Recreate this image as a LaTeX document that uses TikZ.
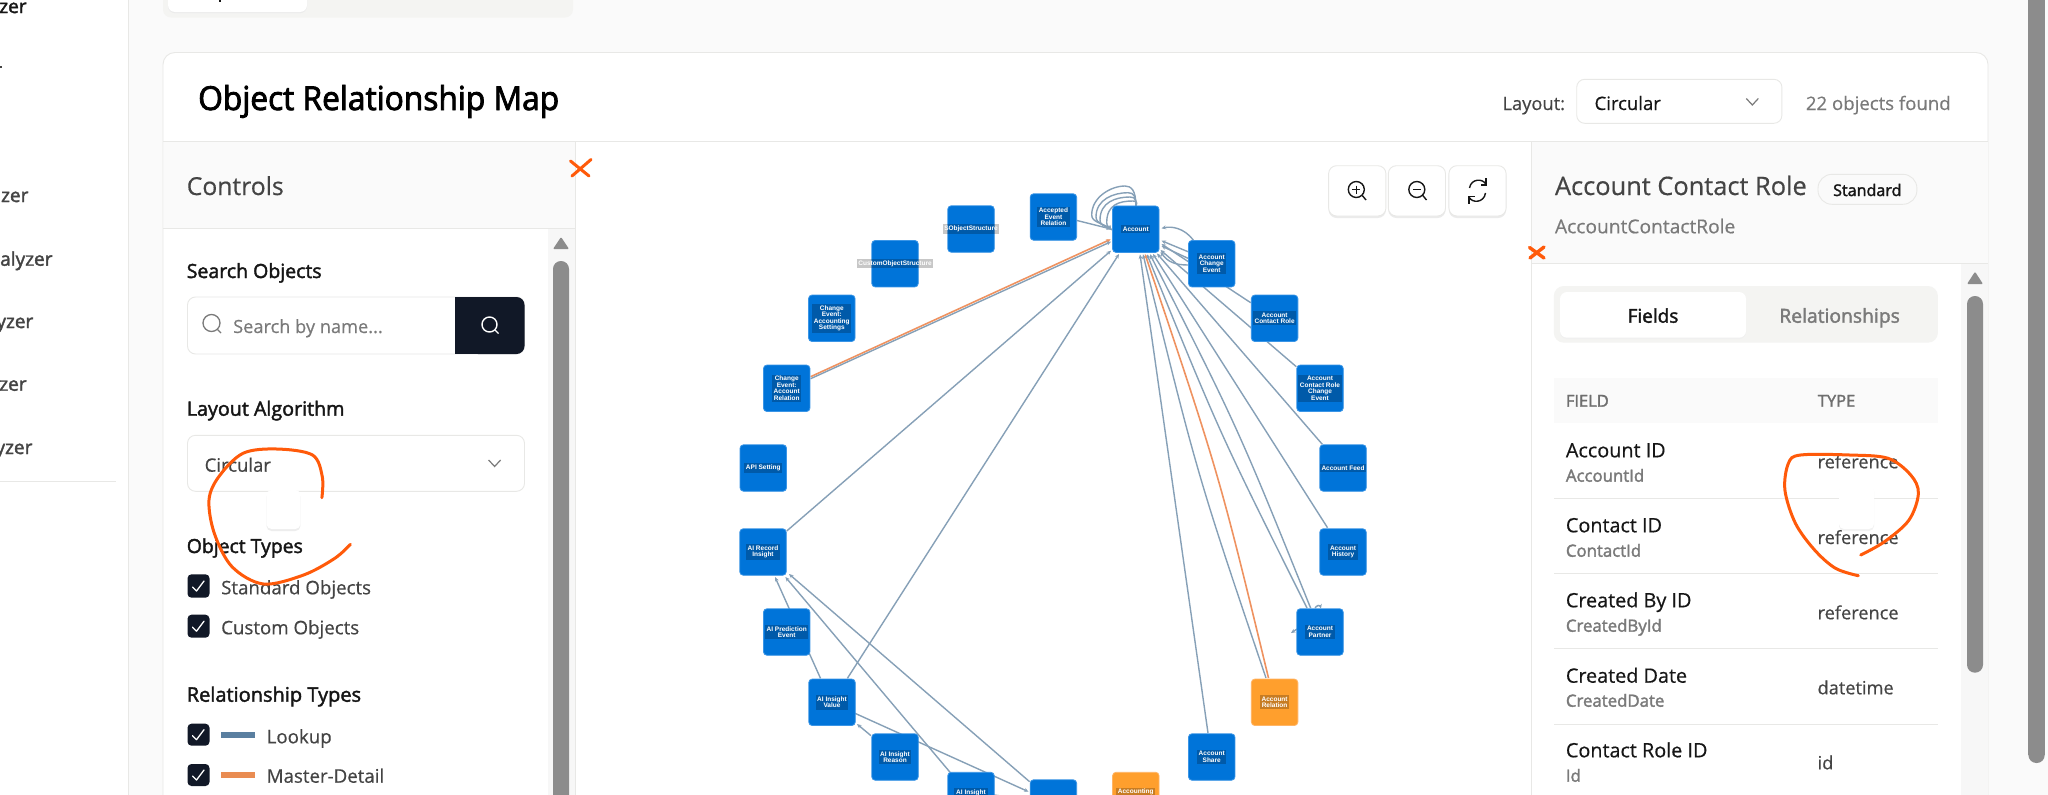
\documentclass[tikz,border=0pt]{standalone}
\usepackage{fontspec}
\setmainfont{Open Sans}[FakeBold=0.5]
\newfontfamily\semi{Open Sans}[FakeBold=2.0]
\newfontfamily\titlef{Open Sans}[FakeStretch=0.96,FakeBold=2.5]
\newfontfamily\labf{Liberation Sans}
\usetikzlibrary{arrows.meta}
\pgfdeclarelayer{uibg}\pgfdeclarelayer{edgelayer}
\pgfsetlayers{uibg,edgelayer,main}
\definecolor{pagebg}{HTML}{FAFAFA}
\definecolor{bord}{HTML}{E8E8E6}
\definecolor{navy}{HTML}{111827}
\definecolor{ink}{HTML}{161616}
\definecolor{soft}{HTML}{444444}
\definecolor{mute}{HTML}{7A7A7A}
\definecolor{thumb}{HTML}{8C8C8C}
\definecolor{tabbg}{HTML}{F4F4F2}
\definecolor{nodeblue}{HTML}{0074D9}
\definecolor{nodeedge}{HTML}{3A95E6}
\definecolor{nodeorange}{HTML}{FF9F2D}
\definecolor{orangeedge}{HTML}{FFB566}
\definecolor{lk}{HTML}{86A0B7}
\definecolor{md}{HTML}{EF9260}
\definecolor{scrib}{HTML}{FF5A0A}
\definecolor{legblue}{HTML}{5A7FA0}
\definecolor{legor}{HTML}{E98C52}
\newcommand{\fs}[1]{\fontsize{#1}{#1}\selectfont}
\tikzset{
  objbox/.style={draw=nodeedge,fill=nodeblue,line width=.8pt,rounded corners=3.5pt,minimum width=46.5pt,minimum height=46.5pt,inner sep=0pt},
  objor/.style={objbox,draw=orangeedge,fill=nodeorange},
  objlab/.style={fill=black,fill opacity=.22,text opacity=1,text=white,inner sep=1.6pt,align=center,font={\labf\bfseries\fontsize{6.5}{6.45}\selectfont}},
  lkedge/.style={draw=lk,line width=1.4pt,-{Stealth[length=4.5pt,width=4pt]}},
  mdedge/.style={draw=md,line width=1.6pt,-{Stealth[length=4.5pt,width=4pt]}},
  txt/.style={anchor=base west,inner sep=0pt,text=ink},
  scribble/.style={draw=scrib,line width=3pt,line cap=round,line join=round},
  panel/.style={draw=bord,fill=white,line width=.9pt},
  chev/.style={draw=mute,line width=1.2pt},
  chk/.style={draw=white,line width=1.3pt,line cap=round,line join=round},
  box8/.style={draw=bord,fill=white,line width=.9pt,rounded corners=8pt},
}
\newcommand{\obj}[5][objbox]{\node[#1,label={[objlab]center:{#5}}] (#2) at (#3,#4) {};}
\newcommand{\ckbox}[3]{\fill[navy,rounded corners=4pt] (187.5,#2) rectangle (209.5,#3);
  \draw[chk] (192.5,{(#2+#3)/2+1}) -- (196.5,{(#2+#3)/2+5}) -- (204,{(#2+#3)/2-5});}
\newcommand{\loopk}[4]{\draw[lkedge] ([shift={(0,-23.5)}]acc.center) .. controls (1136,#2+4) and (#1+6,#2) .. (#1,#2) .. controls (#1-14,#2) and (#3,#4-18) .. (#3,#4) .. controls (#3,#4+7) and (#3+10,#4+8) .. ([shift={(-24.8,0.6)}]acc.center);}
\begin{document}
\begin{tikzpicture}[x=1pt,y=-1pt]
\useasboundingbox (0,0) rectangle (2048,795);
\begin{pgfonlayer}{uibg}
  % page
  \fill[pagebg] (0,0) rectangle (2048,796);
  \fill[white] (0,0) rectangle (128.6,796);
  \draw[bord,line width=.9pt] (128.6,0) -- (128.6,796);
  \draw[bord,line width=.9pt] (0,481) -- (116,481);
  % top tab strip
  \fill[tabbg,rounded corners=8pt] (163,-20) rectangle (573,17.5);
  \fill[black!8] (168,-20) [rounded corners=7pt] rectangle (307,13.2);
  \fill[white,rounded corners=7pt] (168,-20) rectangle (307,12);
  \fill[ink] (218.8,0) rectangle (221,2);
  % card
  \draw[panel,rounded corners=12pt] (163,52.5) -- (1988,52.5) -- (1988,830) -- (163,830) -- cycle;
  \draw[bord,line width=.9pt] (163,141.2) -- (1988,141.2);
  % left panel
  \fill[pagebg] (163.5,141.6) rectangle (575,228.3);
  \fill[white!97!black] (548,228.8) rectangle (575,796);
  \draw[bord,line width=.9pt] (163,228.5) -- (575,228.5);
  \draw[bord,line width=.9pt] (575,141.2) -- (575,796);
  \fill[thumb,rounded corners=1pt] (553,249) -- (561,237) -- (569,249) -- cycle;
  \fill[thumb,rounded corners=7.9pt] (553,261) rectangle (569,830);
  % right panel
  \fill[pagebg] (1531.4,141.6) rectangle (1987.5,263.3);
  \fill[white!97!black] (1961,263.8) rectangle (1987.5,796);
  \draw[bord,line width=.9pt] (1531.4,263.5) -- (1988,263.5);
  \draw[bord,line width=.9pt] (1531.4,141.2) -- (1531.4,796);
  \fill[thumb,rounded corners=1pt] (1967,284) -- (1975,271.7) -- (1983,284) -- cycle;
  \fill[thumb,rounded corners=7.9pt] (1967,296) rectangle (1983,672.7);
  % page scrollbar
  \fill[thumb] (2028.4,0) rectangle (2044.7,755);
  \fill[thumb,rounded corners=7.9pt] (2028.4,740) rectangle (2044.7,763);
\end{pgfonlayer}

% ---- objects ----
\obj{acc}{1135.8}{229.2}{Account}
\obj{aer}{1053.4}{217}{Accepted\\Event\\Relation}
\obj{sob}{971}{229}{SObjectStructure}
\obj{cos}{895}{263.7}{CustomObjectStructure}
\obj{cas}{831.8}{318.3}{Change\\Event:\\Accounting\\Settings}
\obj{car}{786.7}{388.3}{Change\\Event:\\Account\\Relation}
\obj{api}{763.3}{468}{API Setting}
\obj{ace}{1211.7}{263.7}{Account\\Change\\Event}
\obj{acr}{1274.6}{318.3}{Account\\Contact Role}
\obj{arc}{1320}{388.3}{Account\\Contact Role\\Change\\Event}
\obj{afd}{1343}{468}{Account Feed}
\obj{ari}{763}{552}{AI Record\\Insight}
\obj{ahs}{1343}{552}{Account\\History}
\obj{ape}{786.7}{632}{AI Prediction\\Event}
\obj{apt}{1320}{632}{Account\\Partner}
\obj{aiv}{832}{702.3}{AI Insight\\Value}
\obj[objor]{arl}{1274.6}{702.3}{Account\\Relation}
\obj{air}{895}{757}{AI Insight\\Reason}
\obj{ash}{1211.7}{757}{Account\\Share}
\obj{aif}{971}{795.5}{AI Insight\\Feedback}
\obj[objor]{ast}{1135.8}{795.5}{Accounting\\Settings}
\node[objbox] (bot) at (1053.4,803) {};

% ---- connectors ----
\begin{pgfonlayer}{edgelayer}
  \draw[lkedge] ([shift={(23.6,3.5)}]aer.center) -- ([shift={(-24.8,-.2)}]acc.center);
  \loopk{1125}{186}{1091.7}{215}
  \loopk{1128}{192.7}{1096}{217}
  \loopk{1130}{197}{1100}{220}
  \loopk{1133}{201}{1106.7}{222.7}
  \draw[mdedge] ([shift={(23.9,-11.6)}]car.center) -- ([shift={(-25.1,10.1)}]acc.center);
  \draw[lkedge] ([shift={(23.9,-9.6)}]car.center) -- ([shift={(-24.8,12.5)}]acc.center);
  \draw[lkedge] ([shift={(23.7,-21)}]ari.center) -- ([shift={(-24.8,21.5)}]acc.center);
  \draw[lkedge] ([shift={(15.4,-24)}]aiv.center) -- ([shift={(-16.8,24.8)}]acc.center);
  \draw[lkedge] ([shift={(-3.7,-24)}]ash.center) -- ([shift={(4.2,25.3)}]acc.center);
  \draw[lkedge] ([shift={(-8.6,-24.3)}]arl.center) .. controls (1197,474) .. ([shift={(7.2,25.1)}]acc.center);
  \draw[mdedge] ([shift={(-6.1,-24.3)}]arl.center) .. controls (1219,474) .. ([shift={(9.2,24.8)}]acc.center);
  \draw[lkedge] ([shift={(-13,-24)}]apt.center) .. controls (1220,434) .. ([shift={(11.2,25.1)}]acc.center);
  \draw[lkedge] ([shift={(-9.4,-24)}]apt.center) .. controls (1238,428) .. ([shift={(14.2,25.1)}]acc.center);
  \draw[lkedge] ([shift={(-15.5,-24.3)}]ahs.center) -- ([shift={(17.2,24.8)}]acc.center);
  \draw[lkedge] ([shift={(-20.7,-23.7)}]afd.center) -- ([shift={(21.2,24.3)}]acc.center);
  \draw[lkedge] ([shift={(-23.7,-21.6)}]arc.center) -- ([shift={(24.7,20.8)}]acc.center);
  \draw[lkedge] ([shift={(-23.9,-15.6)}]acr.center) -- ([shift={(25.7,14.8)}]acc.center);
  \draw[lkedge] ([shift={(-18.4,-23.7)}]ace.center) .. controls (1184,228) and (1172,226) .. ([shift={(25.7,-0.9)}]acc.center);
  \draw[lkedge] ([shift={(-23.7,-12)}]ace.center) -- ([shift={(25.7,11.5)}]acc.center);
  \draw[lkedge] ([shift={(-23.7,-5.4)}]ace.center) -- ([shift={(25.7,16.8)}]acc.center);
  \draw[lkedge] ([shift={(-23.7,1.3)}]ace.center) .. controls (1175,265) and (1168,262) .. ([shift={(24.7,22.8)}]acc.center);
  \draw[lkedge] ([shift={(-11.5,-24)}]aiv.center) -- ([shift={(12,25)}]ari.center);
  \draw[lkedge] ([shift={(-21,-23.3)}]aif.center) -- ([shift={(22.4,25)}]ari.center);
  \draw[lkedge] ([shift={(-23.8,-21.3)}]bot.center) -- ([shift={(26,22)}]ari.center);
  \draw[lkedge] ([shift={(-24,-21.3)}]air.center) -- ([shift={(25,21.7)}]aiv.center);
  \draw[lkedge] ([shift={(23,11)}]aiv.center) -- ([shift={(-24.9,-11.3)}]bot.center);
  \draw[lkedge] ([shift={(23,-.5)}]aif.center) -- ([shift={(-24.4,-3)}]bot.center);
  \draw[lkedge] ([shift={(-5,-24)}]apt.center) .. controls ([shift={(-3,-27)}]apt.center) and ([shift={(0,-27)}]apt.center) .. ([shift={(1,-23.5)}]apt.center);
  \draw[lkedge] ([shift={(-23,-3)}]apt.center) -- ([shift={(-29,1)}]apt.center);
\end{pgfonlayer}

% ---- sidebar fragments ----
\node[txt,anchor=base east,font={\semi\fs{19}}] (s1) at (26.8,13) {zer};
\fill[soft] (0,65.5) rectangle (2,67.5);
\node[txt,anchor=base east,text=soft,font={\semi\fs{19}}] (s2) at (28.6,202) {zer};
\node[txt,anchor=base east,text=soft,font={\semi\fs{19}}] (s3) at (52.7,265.7) {alyzer};
\node[txt,anchor=base east,text=soft,font={\semi\fs{19}}] (s4) at (33.5,328) {yzer};
\node[txt,anchor=base east,text=soft,font={\semi\fs{19}}] (s5) at (26.8,390.7) {zer};
\node[txt,anchor=base east,text=soft,font={\semi\fs{19}}] (s6) at (32.6,454) {yzer};

% ---- card header ----
\node[txt,text=black,font={\titlef\fs{33}}] (title) at (198,110) {Object Relationship Map};
\node[txt,text=soft,font=\fs{18.3}] (laylab) at (1502.3,110) {Layout:};
\draw[box8] (1576.7,79.3) rectangle (1781.9,123.3);
\node[txt,font=\fs{18.5}] (laysel) at (1594.4,110) {Circular};
\draw[chev] (1746.3,98.5) -- (1752.3,105) -- (1758.3,98.5);
\node[txt,text=mute,font=\fs{18.6}] (found) at (1805.7,110) {22 objects found};

% ---- controls ----
\node[txt,text=soft,font=\fs{24.7}] (ctrl) at (186.6,195) {Controls};
\node[txt,font={\semi\fs{19.5}}] (srchlab) at (186.6,278) {Search Objects};
\draw[box8] (187.5,297) rectangle (524.5,354);
\fill[navy,rounded corners=8pt] (470,297) rectangle (524.5,354);
\fill[navy] (455,297) rectangle (480,354);
\draw[mute,line width=1.3pt] (211.5,323) circle (8.5);
\draw[mute,line width=1.3pt] (217.5,329.5) -- (221,333);
\node[txt,text=mute,font=\fs{18.2}] (srchph) at (233,333) {Search by name...};
\draw[white,line width=1.4pt] (489.5,324.5) circle (7.5);
\draw[white,line width=1.4pt] (495,330) -- (498.5,333.5);

\node[txt,font={\semi\fs{19.7}}] (laylg) at (186.6,415.7) {Layout Algorithm};
\draw[box8] (187.5,435.3) rectangle (524.5,491.3);
\node[txt,font=\fs{18.5},text=soft] (algsel) at (204.5,471.7) {Circular};
\draw[chev] (488.6,460) -- (494.6,466.5) -- (500.6,460);
\fill[black!7,rounded corners=5pt] (266.5,492) rectangle (300.4,531);
\fill[white,rounded corners=5pt] (266.5,490) rectangle (300.4,529);

\node[txt,font={\semi\fs{19.4}}] (ot) at (186.6,553) {Object Types};
\ckbox{1}{574.3}{597.7}
\node[txt,text=soft,font=\fs{18.7}] (std) at (221,594.3) {Standard Objects};
\ckbox{2}{614.7}{637.7}
\node[txt,text=soft,font=\fs{18.7}] (cst) at (221,634.3) {Custom Objects};
\node[txt,font={\semi\fs{20}}] (rt) at (186.6,701.7) {Relationship Types};
\ckbox{3}{723.7}{745.7}
\fill[legblue] (221,732) rectangle (255,738);
\node[txt,text=soft,font=\fs{18.7}] (lkp) at (266.5,743.3) {Lookup};
\ckbox{4}{764}{786}
\fill[legor] (221,772) rectangle (255,778);
\node[txt,text=soft,font=\fs{18.7}] (mdt) at (266.5,782.7) {Master-Detail};

% ---- zoom buttons ----
\fill[black!8,rounded corners=8pt] (1328.6,168) rectangle (1385.9,218);
\fill[black!8,rounded corners=8pt] (1388.3,168) rectangle (1445.5,218);
\fill[black!8,rounded corners=8pt] (1448.9,168) rectangle (1506.1,218);
\draw[box8] (1328.6,165.7) rectangle (1385.9,216);
\draw[box8] (1388.3,165.7) rectangle (1445.5,216);
\draw[box8] (1448.9,165.7) rectangle (1506.1,216);
\draw[ink,line width=1.4pt] (1356.3,189.5) circle (8);
\draw[ink,line width=1.4pt] (1362.3,195.5) -- (1366,200);
\draw[ink,line width=1.2pt] (1352.3,189.5) -- (1360.3,189.5) (1356.3,185.5) -- (1356.3,193.5);
\draw[ink,line width=1.4pt] (1416.8,189.5) circle (8);
\draw[ink,line width=1.4pt] (1422.8,195.5) -- (1426.5,200);
\draw[ink,line width=1.2pt] (1412.8,189.5) -- (1420.8,189.5);
\draw[ink,line width=1.4pt] (1469.5,188) .. controls (1471,178.5) and (1483,178) .. (1486,184.5);
\draw[ink,line width=1.4pt] (1486,178) -- (1486,185) -- (1480.5,185);
\draw[ink,line width=1.4pt] (1485.5,193) .. controls (1484,203) and (1472,203.5) .. (1469,197);
\draw[ink,line width=1.4pt] (1469,203.5) -- (1469,196.5) -- (1474.5,196.5);

% ---- details panel ----
\node[txt,text=soft,font=\fs{25.4}] (dtitle) at (1554.8,195) {Account Contact Role};
\draw[bord,fill=pagebg,line width=.9pt,rounded corners=14pt] (1818,174.3) rectangle (1916.9,204.3);
\node[txt,anchor=base,font={\semi\fs{16.1}}] (badge) at (1867.3,196) {Standard};
\node[txt,text=mute,font=\fs{19.2}] (dapi) at (1554.8,233.3) {AccountContactRole};
\fill[tabbg,rounded corners=10pt] (1553.8,286) rectangle (1937.9,342.7);
\fill[black!6,rounded corners=7pt] (1560,293.5) rectangle (1746,339);
\fill[white,rounded corners=7pt] (1560,292) rectangle (1746,337.7);
\node[txt,anchor=base,font={\semi\fs{19}}] (tabf) at (1653,322.7) {Fields};
\node[txt,anchor=base,text=mute,font={\semi\fs{19.3}}] (tabr) at (1839.6,322.7) {Relationships};
\fill[pagebg] (1554,378.3) rectangle (1938,423.3);
\node[txt,text=mute!90!black,font={\semi\fs{16.5}}] (hf) at (1565.7,406.7) {FIELD};
\node[txt,text=mute!90!black,font={\semi\fs{16.5}}] (ht) at (1817.6,406.7) {TYPE};
\foreach \yy in {498.3,573.3,648.3,724} \draw[bord,line width=.9pt] (1554,\yy) -- (1938,\yy);
\node[txt,font=\fs{19.8}] (r1a) at (1565.7,457.3) {Account ID};
\node[txt,text=mute,font={\semi\fs{16.8}}] (r1b) at (1565.7,481.7) {AccountId};
\node[txt,text=soft,font=\fs{18.2}] (r1c) at (1817.4,468.3) {reference};
\node[txt,font=\fs{19.8}] (r2a) at (1565.7,532.3) {Contact ID};
\node[txt,text=mute,font={\semi\fs{16.8}}] (r2b) at (1565.7,556.7) {ContactId};
\node[txt,text=soft,font=\fs{18.2}] (r2c) at (1817.4,544) {reference};
\node[txt,font=\fs{19.8}] (r3a) at (1565.7,607.3) {Created By ID};
\node[txt,text=mute,font={\semi\fs{16.8}}] (r3b) at (1565.7,631.7) {CreatedById};
\node[txt,text=soft,font=\fs{18.2}] (r3c) at (1817.4,619.3) {reference};
\node[txt,font=\fs{19.8}] (r4a) at (1565.7,682.7) {Created Date};
\node[txt,text=mute,font={\semi\fs{16.8}}] (r4b) at (1565.7,706.7) {CreatedDate};
\node[txt,text=soft,font=\fs{18.2}] (r4c) at (1817.4,694.3) {datetime};
\node[txt,font=\fs{19.8}] (r5a) at (1565.7,757.3) {Contact Role ID};
\node[txt,text=mute,font={\semi\fs{16.8}}] (r5b) at (1565.7,781.7) {Id};
\node[txt,text=soft,font=\fs{18.2}] (r5c) at (1817.4,769.3) {id};
\fill[black!5,rounded corners=5pt] (1839,487) rectangle (1874,531);
\fill[white,rounded corners=5pt] (1839,485) rectangle (1874,529);

% ---- hand-drawn marks ----
\draw[scribble] (570.5,161) -- (589,176);
\draw[scribble] (591,159.5) -- (572,176);
\draw[scribble,line width=3.4pt] (1529.5,247.5) -- (1544,258);
\draw[scribble,line width=3.4pt] (1544,247) -- (1530,258);
\draw[scribble] plot[smooth,tension=.55] coordinates {(321.9,497.7) (322.3,476.7) (312.5,455) (276.8,449) (243,453.3) (218.8,476.7) (209,500) (214.3,533.3) (232,566.7) (263.4,584) (303.6,575) (334.8,558.3) (350.4,544.3)};
\draw[scribble] plot[smooth,tension=.55] coordinates {(1858.3,575.7) (1835.5,568.3) (1814.6,550) (1795.4,523.3) (1784.9,490) (1788.4,463.3) (1800.6,455) (1849.5,455) (1888,458.3) (1910.7,475) (1918.4,493.3) (1909,520) (1884.5,541.7) (1860.7,555)};
\end{tikzpicture}
\end{document}
